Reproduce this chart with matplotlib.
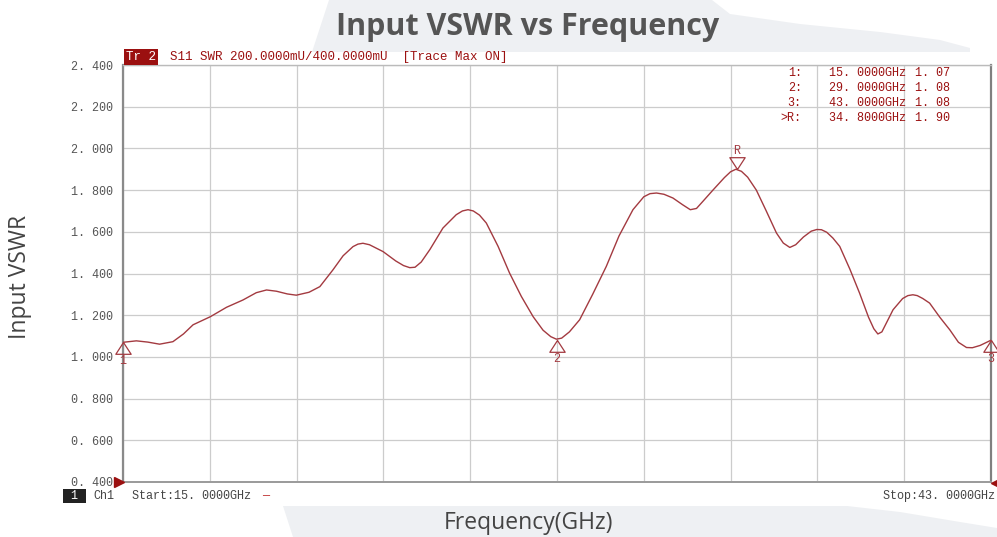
import matplotlib
matplotlib.use("Agg")
import matplotlib.pyplot as plt
from matplotlib.patches import Polygon
from matplotlib.transforms import offset_copy
import numpy as np

# trace
freq_ghz = [15.00, 15.43, 15.80, 16.18, 16.61, 16.95, 17.26, 17.82, 18.34, 18.87,
            19.30, 19.63, 19.95, 20.30, 20.59, 21.00, 21.35, 21.77, 22.10, 22.42,
            22.58, 22.74, 22.95, 23.39, 23.80, 24.05, 24.25, 24.42, 24.62, 24.90,
            25.32, 25.75, 25.95, 26.13, 26.30, 26.50, 26.72, 27.10, 27.47, 27.85,
            28.23, 28.55, 28.80, 28.98, 29.15, 29.40, 29.73, 30.15, 30.59, 31.00,
            31.45, 31.80, 32.00, 32.21, 32.45, 32.74, 33.05, 33.30, 33.50, 33.70,
            34.03, 34.40, 34.60, 34.77, 34.95, 35.15, 35.43, 35.75, 36.08, 36.30,
            36.51, 36.70, 36.95, 37.20, 37.38, 37.53, 37.70, 37.90, 38.12, 38.45,
            38.76, 39.05, 39.22, 39.35, 39.48, 39.65, 39.84, 40.15, 40.32, 40.48,
            40.62, 40.80, 41.02, 41.35, 41.67, 41.95, 42.21, 42.40, 42.65, 43.00]
vswr = [1.070, 1.077, 1.071, 1.061, 1.073, 1.110, 1.154, 1.193, 1.238, 1.273,
        1.308, 1.321, 1.315, 1.302, 1.296, 1.310, 1.337, 1.417, 1.485, 1.529,
        1.541, 1.545, 1.538, 1.505, 1.460, 1.438, 1.428, 1.430, 1.455, 1.515,
        1.618, 1.682, 1.700, 1.706, 1.700, 1.680, 1.642, 1.530, 1.402, 1.290,
        1.193, 1.128, 1.097, 1.085, 1.090, 1.120, 1.178, 1.300, 1.434, 1.580,
        1.706, 1.768, 1.783, 1.786, 1.780, 1.762, 1.730, 1.706, 1.712, 1.745,
        1.800, 1.860, 1.888, 1.900, 1.890, 1.862, 1.800, 1.700, 1.594, 1.546,
        1.525, 1.538, 1.575, 1.603, 1.611, 1.610, 1.598, 1.570, 1.530, 1.420,
        1.306, 1.190, 1.135, 1.110, 1.120, 1.170, 1.226, 1.280, 1.294, 1.298,
        1.294, 1.280, 1.258, 1.190, 1.130, 1.070, 1.045, 1.044, 1.055, 1.080]

marker_names = ["1", "2", "3", "R"]
marker_freq = [15.0, 29.0, 43.0, 34.8]
marker_vswr = [1.07, 1.08, 1.08, 1.90]

y_ticks = [0.4, 0.6, 0.8, 1.0, 1.2, 1.4, 1.6, 1.8, 2.0, 2.2, 2.4]
x_start, x_stop = 15.0, 43.0

TRACE = "#a33a40"
DARKRED = "#9b1010"
MONO = "Liberation Mono"
SANS = "Open Sans"

fig = plt.figure(figsize=(9.97, 5.37), dpi=100)
W, H = 997, 537

# light grey decorative background shapes
def px_poly(pts):
    return Polygon([(x / W, 1 - y / H) for x, y in pts], closed=True,
                   transform=fig.transFigure, facecolor="#eef0f3",
                   edgecolor="none", zorder=0)

fig.patches.append(px_poly([(312, 52), (329, 0), (712, 0), (730, 14), (800, 24),
                            (880, 32), (940, 40), (970, 48), (970, 52)]))
fig.patches.append(px_poly([(283, 506), (847, 506), (900, 512), (960, 522),
                            (997, 528), (997, 537), (293, 537)]))

ax = fig.add_axes([123 / W, 1 - 482 / H, 868 / W, 417 / H])
ax.set_facecolor("none")
ax.set_xlim(x_start, x_stop)
ax.set_ylim(y_ticks[0], y_ticks[-1])
ax.set_xticks(np.linspace(x_start, x_stop, 11))
ax.set_yticks(y_ticks)
ax.set_yticklabels([f"{v:.3f}".replace(".", ". ") for v in y_ticks],
                   fontfamily=MONO, fontsize=8.5, color="#555555")
ax.tick_params(axis="x", labelbottom=False, length=0)
ax.tick_params(axis="y", length=0, pad=7)
ax.grid(True, color="#cccccc", lw=0.9)
ax.set_axisbelow(True)
for side, col, lw in [("left", "#8a8a8a", 1.6), ("bottom", "#9a9a9a", 1.4),
                      ("top", "#bbbbbb", 1.0), ("right", "#808080", 1.6)]:
    ax.spines[side].set_color(col)
    ax.spines[side].set_linewidth(lw)

ax.plot(freq_ghz, vswr, color=TRACE, lw=1.0, zorder=3,
        solid_joinstyle="round", solid_capstyle="round")

# marker triangles (apex on the trace) and labels
tri_up = [(0, 0), (-0.65, -1), (0.65, -1), (0, 0)]
tri_down = [(0, 0), (-0.65, 1), (0.65, 1), (0, 0)]
ms = 17
for name, f, v in zip(marker_names, marker_freq, marker_vswr):
    up = name != "R"
    ax.plot(f, v, marker=tri_up if up else tri_down, ms=ms, mfc="none",
            mec=TRACE, mew=0.9, clip_on=False, zorder=4)
    lt = offset_copy(ax.transData, fig=fig, x=0, y=-13.5 if up else 13.5,
                     units="points")
    ax.text(f, v, name, transform=lt, ha="center", va="center",
            fontfamily=MONO, fontsize=8.5, color=TRACE)

# marker readout table
rows_y = [0.981, 0.945, 0.909, 0.873]
for i, (name, f, v) in enumerate(zip(marker_names, marker_freq, marker_vswr)):
    lab = ">R:" if name == "R" else f"{name}:"
    ax.text(0.782, rows_y[i], lab, transform=ax.transAxes, ha="right", va="center",
            fontfamily=MONO, fontsize=8.5, color=DARKRED)
    ax.text(0.813, rows_y[i], f"{f:.4f}GHz".replace(".", ". "), transform=ax.transAxes,
            ha="left", va="center", fontfamily=MONO, fontsize=8.5, color=DARKRED)
    ax.text(0.913, rows_y[i], f"{v:.2f}".replace(".", ". "), transform=ax.transAxes,
            ha="left", va="center", fontfamily=MONO, fontsize=8.5, color=DARKRED)

# instrument header / footer
fig.text(126 / W, 1 - 57 / H, "Tr 2", ha="left", va="center", fontfamily=MONO,
         fontsize=9, color="white",
         bbox=dict(boxstyle="square,pad=0.15", fc=DARKRED, ec="none"))
fig.text(170 / W, 1 - 57 / H, "S11 SWR 200.0000mU/400.0000mU  [Trace Max ON]",
         ha="left", va="center", fontfamily=MONO, fontsize=9, color=DARKRED)
fig.text(64 / W, 1 - 496 / H, " 1 ", ha="left", va="center", fontfamily=MONO,
         fontsize=8.5, color="white",
         bbox=dict(boxstyle="square,pad=0.1", fc="#222222", ec="none"))
fig.text(93 / W, 1 - 496 / H, "Ch1", ha="left", va="center", fontfamily=MONO,
         fontsize=8.5, color="#444444")
fig.text(132 / W, 1 - 496 / H, f"Start:{x_start:.4f}GHz".replace(".", ". "),
         ha="left", va="center", fontfamily=MONO, fontsize=8.5, color="#444444")
fig.text(262 / W, 1 - 496 / H, "\u2014", ha="left", va="center", fontfamily=MONO,
         fontsize=8.5, color="#c03030")
fig.text(995 / W, 1 - 496 / H, f"Stop:{x_stop:.4f}GHz".replace(".", ". "),
         ha="right", va="center", fontfamily=MONO, fontsize=8.5, color="#444444")

# red reference arrows at the bottom corners
ax.plot([0], [0], marker=">", ms=7, color=DARKRED, transform=offset_copy(
    ax.transAxes, fig=fig, x=-3, y=0, units="points"), clip_on=False, zorder=5)
ax.plot([1], [0], marker="<", ms=7, color=DARKRED, transform=offset_copy(
    ax.transAxes, fig=fig, x=3.5, y=-1, units="points"), clip_on=False, zorder=5)

# titles
fig.text(528 / W, 1 - 27 / H, "Input VSWR vs Frequency", ha="center", va="center",
         fontfamily=SANS, fontweight="bold", fontsize=22, color="#555555")
fig.text(20 / W, 1 - 277 / H, "Input VSWR", ha="center", va="center", rotation=90,
         fontfamily=SANS, fontsize=16.5, color="#444444")
fig.text(529 / W, 1 - 523 / H, "Frequency(GHz)", ha="center", va="center",
         fontfamily=SANS, fontsize=16.5, color="#444444")

fig.savefig("out.png", dpi=100)
